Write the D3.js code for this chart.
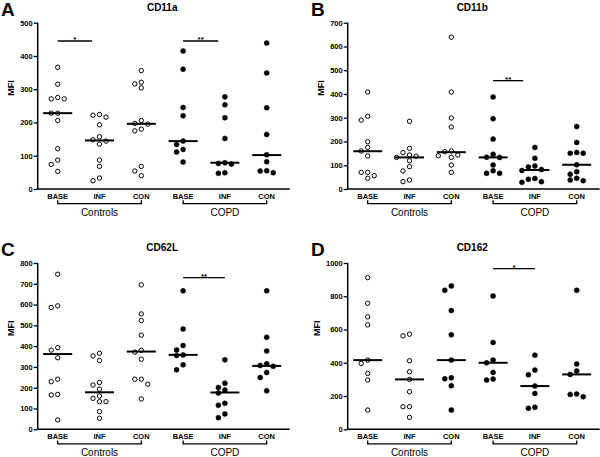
<!DOCTYPE html>
<html>
<head>
<meta charset="utf-8">
<script src="https://cdn.jsdelivr.net/npm/d3@7"></script>
<style>
  body { margin: 0; background: #fff; }
  svg { display: block; font-family: "Liberation Sans", Arial, sans-serif; }
</style>
</head>
<body>
<div id="chart"></div>
<script>
// categories and groups
const categories = ['BASE', 'INF', 'CON', 'BASE', 'INF', 'CON'];
const groups = ['Controls', 'COPD'];
const panelLetters = ['A', 'B', 'C', 'D'];
const titles = ['CD11a', 'CD11b', 'CD62L', 'CD162'];
const yMax = [500, 700, 800, 1000];
const yStep = [100, 100, 100, 200];

// MFI values, one list per category
const cd11a = [
  [366, 315, 275, 271, 271, 228, 228, 206, 121, 87, 74, 53],
  [224, 222, 216, 193, 157, 148, 144, 135, 87, 68, 33, 25],
  [356, 321, 316, 304, 206, 197, 195, 180, 175, 68, 54, 40],
  [415, 360, 245, 220, 144, 134, 119, 111, 81],
  [277, 253, 214, 152, 79, 77, 75, 49, 47],
  [439, 349, 244, 164, 103, 82, 55, 54, 49]
];
const cd11b = [
  [408, 306, 290, 199, 175, 160, 139, 70, 70, 56, 45],
  [285, 171, 153, 143, 138, 133, 119, 94, 76, 38, 31],
  [639, 408, 299, 261, 160, 157, 143, 140, 133, 101, 70],
  [387, 296, 210, 146, 134, 133, 101, 77, 66, 66],
  [175, 129, 97, 93, 82, 78, 44, 41, 31, 28],
  [263, 196, 154, 151, 151, 102, 73, 62, 45, 38, 35]
];
const cd62l = [
  [746, 594, 586, 393, 381, 344, 241, 229, 168, 165, 45],
  [366, 353, 331, 225, 213, 193, 160, 149, 133, 133, 85, 53],
  [695, 555, 523, 453, 380, 371, 337, 241, 241, 217, 146],
  [666, 483, 403, 382, 358, 355, 310, 286],
  [334, 222, 201, 189, 175, 125, 116, 74, 56],
  [666, 443, 377, 315, 307, 303, 273, 249, 185]
];
const cd162 = [
  [912, 758, 676, 628, 416, 396, 336, 296, 116],
  [572, 562, 412, 346, 300, 226, 136, 136, 72],
  [862, 836, 714, 568, 416, 310, 304, 262, 116],
  [802, 522, 416, 400, 342, 302, 296],
  [446, 356, 328, 260, 216, 132, 126],
  [836, 392, 350, 330, 212, 210, 196]
];

// median bars as drawn
const cd11aMedian = [228, 146, 196, 144, 79, 102];
const cd11bMedian = [159, 133, 155, 133, 80, 102];
const cd62lMedian = [362, 178, 374, 358, 177, 305];
const cd162Median = [416, 300, 416, 400, 260, 330];

// filled (true) or open (false) symbols per category
const filledABC = [false, false, false, true, true, true];
const filledD = [false, false, true, true, true, true];

// significance bars: category index from/to, MFI level, label
const sigA = [{ from: 0, to: 0.82, y: 445, label: '*' }, { from: 3, to: 3.84, y: 445, label: '**' }];
const sigB = [{ from: 3, to: 3.72, y: 456, label: '**' }];
const sigC = [{ from: 3, to: 4, y: 730, label: '**' }];
const sigD = [{ from: 3, to: 4, y: 966, label: '*' }];

const panels = [
  { values: cd11a, medians: cd11aMedian, filled: filledABC, sig: sigA },
  { values: cd11b, medians: cd11bMedian, filled: filledABC, sig: sigB },
  { values: cd62l, medians: cd62lMedian, filled: filledABC, sig: sigC },
  { values: cd162, medians: cd162Median, filled: filledD, sig: sigD }
];

const width = 600, height = 457;
const svg = d3.select('#chart').append('svg')
  .attr('width', width)
  .attr('height', height);
svg.append('rect').attr('width', width).attr('height', height).attr('fill', '#fff');

const axisLeft = 37.7, plotTop = 22.7, plotBottom = 189, axisLen = 252;
const colOffset = 310, rowOffset = 240.3;

panels.forEach((p, i) => {
  const ox = (i % 2) * colOffset;
  const oy = Math.floor(i / 2) * rowOffset;
  const g = svg.append('g').attr('transform', `translate(${ox},${oy})`);

  const x = d3.scaleLinear().domain([0, 5]).range([axisLeft + 20, axisLeft + 229]);
  const y = d3.scaleLinear().domain([0, yMax[i]]).range([plotBottom, plotTop]);

  // panel letter + title
  g.append('text')
    .attr('x', 1).attr('y', 15.5)
    .attr('font-size', 19).attr('font-weight', 'bold')
    .text(panelLetters[i]);
  g.append('text')
    .attr('x', axisLeft + 124.5).attr('y', 10.8)
    .attr('text-anchor', 'middle')
    .attr('font-size', 10).attr('font-weight', 'bold')
    .text(titles[i]);

  // y axis
  const yAxis = g.append('g')
    .attr('transform', `translate(${axisLeft},0)`)
    .call(d3.axisLeft(y)
      .tickValues(d3.range(0, yMax[i] + 1, yStep[i]))
      .tickFormat(d3.format('d'))
      .tickSize(4).tickPadding(1));
  yAxis.select('.domain').attr('stroke-width', 1.5).attr('d', `M0,${plotBottom}V${plotTop}`);
  yAxis.selectAll('.tick line').attr('stroke-width', 1.3);
  yAxis.selectAll('.tick text')
    .attr('font-size', 7.5).attr('font-weight', 'bold')
    .attr('font-family', '"Liberation Sans", Arial, sans-serif');

  // MFI label left of the tick labels
  const bb = yAxis.node().getBBox();
  g.append('text')
    .attr('transform', `translate(${axisLeft + bb.x - 6},${88}) rotate(-90)`)
    .attr('text-anchor', 'middle')
    .attr('font-size', 9).attr('font-weight', 'bold')
    .text('MFI');

  // x axis line
  g.append('line')
    .attr('x1', axisLeft).attr('x2', axisLeft + axisLen)
    .attr('y1', plotBottom).attr('y2', plotBottom)
    .attr('stroke', '#000').attr('stroke-width', 1.5);

  // category labels
  g.selectAll('.cat').data(categories).join('text')
    .attr('x', (d, j) => x(j)).attr('y', 198.8)
    .attr('text-anchor', 'middle')
    .attr('font-size', 7.5).attr('font-weight', 'bold')
    .text(d => d);

  // group brackets
  groups.forEach((name, k) => {
    const x1 = x(k * 3), x2 = x(k * 3 + 2);
    g.append('path')
      .attr('d', `M${x1},200.2V203.6H${x2}V200.2`)
      .attr('fill', 'none').attr('stroke', '#000').attr('stroke-width', 1.3);
    g.append('text')
      .attr('x', (x1 + x2) / 2).attr('y', 215.6)
      .attr('text-anchor', 'middle')
      .attr('font-size', 10)
      .text(name);
  });

  // points, spread sideways when they would overlap
  const step = 6.5, minDist = 5.4;
  p.values.forEach((vals, j) => {
    const placed = [];
    vals.slice().sort((a, b) => b - a).forEach(v => {
      const py = y(v);
      for (const k of [0, -1, 1, -2, 2, -3, 3]) {
        const px = k * step;
        if (!placed.some(q => Math.abs(q.x - px) < minDist && Math.abs(q.y - py) < minDist)) {
          placed.push({ x: px, y: py });
          break;
        }
      }
    });
    g.selectAll(null).data(placed).join('circle')
      .attr('cx', d => x(j) + d.x)
      .attr('cy', d => d.y)
      .attr('r', p.filled[j] ? 2.5 : 2.2)
      .attr('fill', p.filled[j] ? '#000' : '#fff')
      .attr('stroke', '#000')
      .attr('stroke-width', p.filled[j] ? 0.5 : 1);

    // median
    g.append('line')
      .attr('x1', x(j) - 14.5).attr('x2', x(j) + 14.5)
      .attr('y1', y(p.medians[j])).attr('y2', y(p.medians[j]))
      .attr('stroke', '#000').attr('stroke-width', 2);
  });

  // significance bars
  p.sig.forEach(s => {
    g.append('line')
      .attr('x1', x(s.from)).attr('x2', x(s.to))
      .attr('y1', y(s.y)).attr('y2', y(s.y))
      .attr('stroke', '#000').attr('stroke-width', 1.3);
    g.append('text')
      .attr('x', (x(s.from) + x(s.to)) / 2).attr('y', y(s.y) + 1)
      .attr('text-anchor', 'middle')
      .attr('font-size', 8).attr('font-weight', 'bold')
      .text(s.label);
  });
});
</script>
</body>
</html>
